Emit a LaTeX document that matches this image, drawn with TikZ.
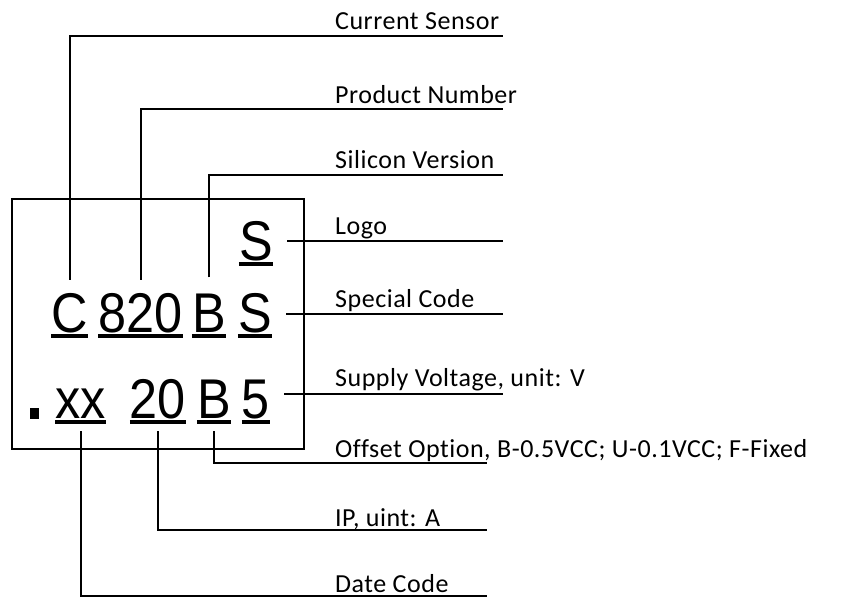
\documentclass[tikz,border=0pt]{standalone}
\usepackage{fontspec}
\setmainfont{Carlito}[LetterSpace=2, Ligatures=NoCommon]
\newfontfamily\markfont{Liberation Sans}[FakeStretch=0.9]

\tikzset{
  markch/.style={inner sep=0pt, anchor=base, font=\markfont\fontsize{56}{60}\selectfont},
  lbl/.style={inner sep=0pt, anchor=base west, font=\fontsize{26}{30}\selectfont},
  leader/.style={line width=2pt},
  uline/.style={line width=4pt},
}
\newcommand{\uln}[1]{\draw[uline] ([yshift=-4pt]#1.base west) -- ([yshift=-4pt]#1.base east);}

\begin{document}
\begin{tikzpicture}[x=1pt, y=-1pt]
    \useasboundingbox (0,0) rectangle (844,597);

    % Chip outline
    \draw[leader] (12,199) rectangle (304,449);

    % Marking, line 1
    \node[markch] (logo) at (256,260) {S};
    % Marking, line 2
    \node[markch] (cur) at (69.5,332) {C};
    \node[markch] (prod) at (140.5,332) {820};
    \node[markch] (sil) at (209,332) {B};
    \node[markch] (spec) at (255,332) {S};
    % Marking, line 3
    \fill (30,408) rectangle (39,419);
    \node[markch] (date) at (80.5,418) {xx};
    \node[markch] (ip) at (158,418) {20};
    \node[markch] (offs) at (214,418) {B};
    \node[markch] (volt) at (256,418) {5};

    \uln{logo} \uln{cur} \uln{prod} \uln{sil} \uln{spec}
    \uln{date} \uln{ip} \uln{offs} \uln{volt}

    % Label texts
    \node[lbl] (curl) at (335,30) {Current Sensor};
    \node[lbl] (prodl) at (335,103) {Product Number};
    \node[lbl] (sill) at (335,168) {Silicon Version};
    \node[lbl] (logol) at (335,234) {Logo};
    \node[lbl] (specl) at (335,307) {Special Code};
    \node[lbl] (voltl) at (335,386) {Supply Voltage, unit: V};
    \node[lbl] (offsl) at (335,457) {Offset Option, B-0.5VCC; U-0.1VCC; F-Fixed};
    \node[lbl] (ipl) at (335,526) {IP, uint: A};
    \node[lbl] (datel) at (335,592) {Date Code};

    % Line ends
    \coordinate (curend) at (503,36);
    \coordinate (prodend) at (503,109);
    \coordinate (silend) at (503,175);
    \coordinate (logoend) at (503,241);
    \coordinate (specend) at (503,314);
    \coordinate (voltend) at (503,394);
    \coordinate (offsend) at (487,463);
    \coordinate (ipend) at (487,530);
    \coordinate (dateend) at (487,596);

    % Leaders
    \draw[leader, shorten <=13pt] (cur.north) |- (curend);
    \draw[leader, shorten <=13pt] (prod.north) |- (prodend);
    \draw[leader, shorten <=16pt] (sil.north) |- (silend);
    \draw[leader, shorten <=14pt] (logo.east |- logoend) -- (logoend);
    \draw[leader, shorten <=14pt] (spec.east |- specend) -- (specend);
    \draw[leader, shorten <=14pt] (volt.east |- voltend) -- (voltend);
    \draw[leader] ([yshift=-13pt]offs.base) |- (offsend);
    \draw[leader] ([yshift=-13pt]ip.base) |- (ipend);
    \draw[leader] ([yshift=-13pt]date.base) |- (dateend);
\end{tikzpicture}
\end{document}
